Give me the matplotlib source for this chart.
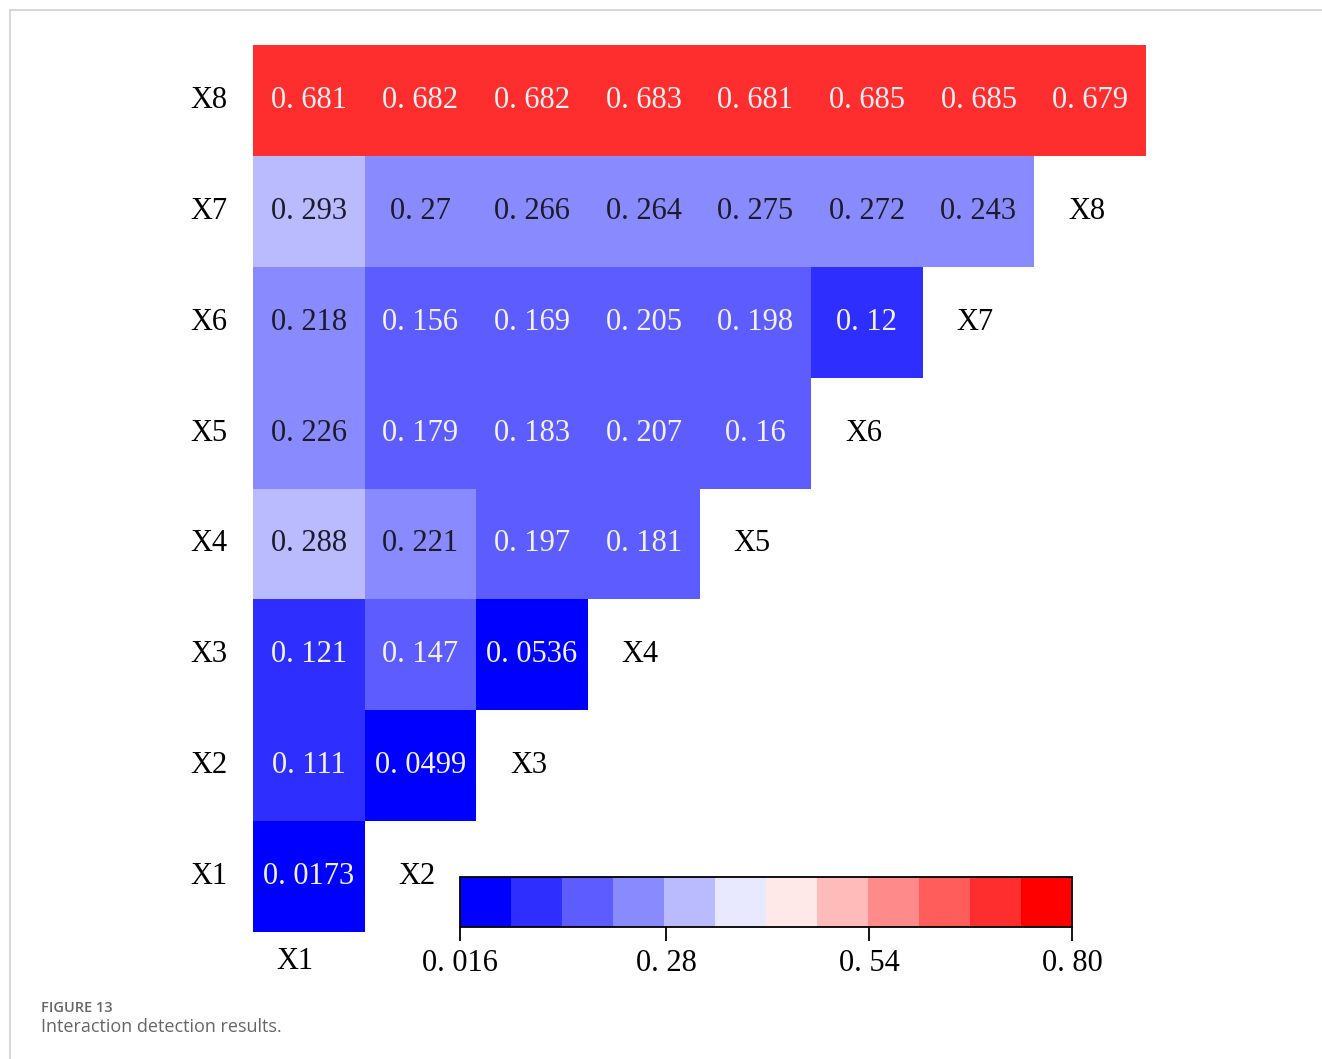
import numpy as np
import matplotlib
matplotlib.use('Agg')
import matplotlib.pyplot as plt
from matplotlib.colors import ListedColormap, BoundaryNorm
from matplotlib.lines import Line2D

# interaction q values, row Xk holds the interactions of Xk with X1..Xk
LABELS = ['X1', 'X2', 'X3', 'X4', 'X5', 'X6', 'X7', 'X8']
ROWS = [
    [0.0173],
    [0.111, 0.0499],
    [0.121, 0.147, 0.0536],
    [0.288, 0.221, 0.197, 0.181],
    [0.226, 0.179, 0.183, 0.207, 0.16],
    [0.218, 0.156, 0.169, 0.205, 0.198, 0.12],
    [0.293, 0.27, 0.266, 0.264, 0.275, 0.272, 0.243],
    [0.681, 0.682, 0.682, 0.683, 0.681, 0.685, 0.685, 0.679],
]
CBAR_TICKS = [0.016, 0.28, 0.54, 0.80]
CBAR_TICK_LABELS = ['0. 016', '0. 28', '0. 54', '0. 80']
VMIN, VMAX, N_LEVELS = 0.016, 0.80, 12

SERIF = 'Liberation Serif'


def fmt(v):
    # the source uses a wide gap after the decimal point
    s = f'{v:.4g}'
    return s.replace('.', '. ')


W, H = 1322, 1059
fig = plt.figure(figsize=(W / 100, H / 100), dpi=100)

# page frame lines
fig.add_artist(Line2D([10 / W, 1], [1 - 10 / H, 1 - 10 / H], color='#cfcfcf', lw=1.2))
fig.add_artist(Line2D([10 / W, 10 / W], [0, 1 - 10 / H], color='#cfcfcf', lw=1.2))

n = len(LABELS)
grid = np.ma.masked_all((n, n))
for i, row in enumerate(ROWS):
    for j, v in enumerate(row):
        grid[i, j] = v

cmap = ListedColormap(plt.cm.bwr(np.linspace(0, 1, N_LEVELS)))
norm = BoundaryNorm(np.linspace(VMIN, VMAX, N_LEVELS + 1), N_LEVELS)

ax = fig.add_axes([253 / W, 1 - 932 / H, (1146 - 253) / W, (932 - 45) / H])
mesh = ax.pcolormesh(np.arange(n + 1), np.arange(n + 1), grid, cmap=cmap, norm=norm)
ax.set_xlim(0, n)
ax.set_ylim(0, n)
ax.axis('off')

for i, row in enumerate(ROWS):
    for j, v in enumerate(row):
        level = int(norm(v))
        color = '#1c1c28' if level in (3, 4, 5, 6, 7) else '#f2f2f2'
        ax.text(j + 0.5, i + 0.5, fmt(v), ha='center', va='center',
                fontsize=22, family=SERIF, color=color)
    # row label on the left
    ax.text(-0.23, i + 0.5, LABELS[i], ha='right', va='center',
            fontsize=22, family=SERIF, color='black')

# column labels along the staircase
for j, lab in enumerate(LABELS):
    if j == 0:
        ax.text(0.38, -0.27, lab, ha='center', va='center', fontsize=22, family=SERIF)
    else:
        ax.text(j + 0.47, j - 0.5, lab, ha='center', va='center', fontsize=22, family=SERIF)

# horizontal colorbar sitting inside the empty triangle
cax = fig.add_axes([460 / W, 1 - 927 / H, (1072 - 460) / W, 50 / H])
cbar = fig.colorbar(mesh, cax=cax, orientation='horizontal', ticks=CBAR_TICKS)
cbar.ax.minorticks_off()
cbar.ax.set_xticklabels(CBAR_TICK_LABELS, family=SERIF, fontsize=22)
cbar.ax.tick_params(length=10, width=1.3, pad=6)
cbar.outline.set_linewidth(1.3)

# caption
fig.text(41 / W, 1 - 1008 / H, 'FIGURE 13', fontsize=10.5, family='Open Sans',
         weight='semibold', color='#666666', va='center')
fig.text(41 / W, 1 - 1027 / H, 'Interaction detection results.', fontsize=13,
         family='Open Sans', color='#666666', va='center')

fig.savefig('out.png', dpi=100)
